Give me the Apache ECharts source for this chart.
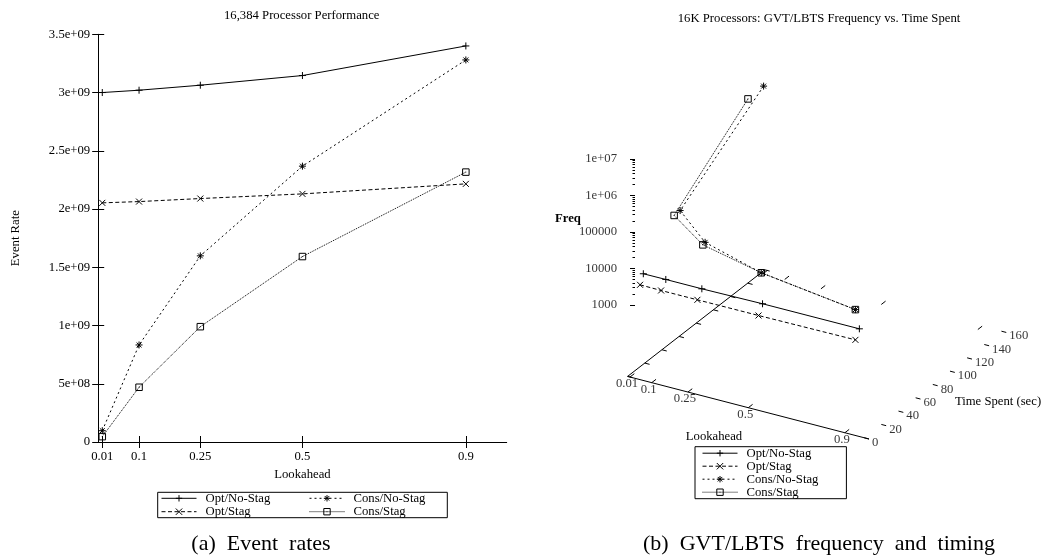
<!DOCTYPE html>
<html><head><meta charset="utf-8">
<script src="https://cdn.jsdelivr.net/npm/echarts@6/dist/echarts.min.js"></script>
<style>html,body{margin:0;padding:0;background:#fff}#c{width:1044px;height:558px}</style>
</head><body><div id="c"></div><script>
// ---------- data ----------
const seriesNames = ['Opt/No-Stag', 'Opt/Stag', 'Cons/No-Stag', 'Cons/Stag'];
const lookahead = [0.01, 0.1, 0.25, 0.5, 0.9];
const lookaheadLabels = ['0.01', '0.1', '0.25', '0.5', '0.9'];
// (a) event rates
const rateOptNoStag = [3.00e9, 3.02e9, 3.063e9, 3.146e9, 3.40e9];
const rateOptStag = [2.053e9, 2.064e9, 2.09e9, 2.13e9, 2.216e9];
const rateConsNoStag = [0.097e9, 0.833e9, 1.598e9, 2.368e9, 3.28e9];
const rateConsStag = [0.046e9, 0.47e9, 0.99e9, 1.592e9, 2.317e9];
// (b) time spent (sec) and GVT/LBTS frequency
const timeOptNoStag = [15.5, 16.4, 16.2, 16.6, 16.9];
const freqOptNoStag = [3870, 3710, 3750, 3850, 3800];
const timeOptStag = [11.7, 10.9, 11.0, 11.9, 12.3];
const freqOptStag = [2260, 2330, 2330, 2240, 2300];
const timeConsNoStag = [155.7, 33.1, 20.0, 15.1, 12.3];
const freqConsNoStag = [1.48e6, 1.42e5, 6.0e4, 2.9e4, 1.55e4];
const timeConsStag = [137.5, 26.1, 17.4, 15.1, 12.3];
const freqConsStag = [1.42e6, 1.40e5, 5.7e4, 2.9e4, 1.55e4];
// tick values
const timeTicks = [0, 20, 40, 60, 80, 100, 120, 140, 160];
const zTicks = [1e3, 1e4, 1e5, 1e6, 1e7];
const zTickLabels = ['1000', '10000', '100000', '1e+06', '1e+07'];

// ---------- styles ----------
const FONT = 'Liberation Serif';
const FS = 12.7;
const SYM = {
  plus: 'path://M0,5L10,5M5,0L5,10',
  cross: 'path://M0,0L10,10M10,0L0,10',
  star: 'path://M0,5L10,5M5,0L5,10M1.5,1.5L8.5,8.5M8.5,1.5L1.5,8.5',
  square: 'path://M0,0L10,0M10,0L10,10M10,10L0,10M0,10L0,0M4.4,5L5.6,5'
};
const STYLE = {
  'Opt/No-Stag': {symbol: SYM.plus, size: 7, dash: 'solid'},
  'Opt/Stag': {symbol: SYM.cross, size: 6, dash: [4, 2.5]},
  'Cons/No-Stag': {symbol: SYM.star, size: 7, dash: [2, 3]},
  'Cons/Stag': {symbol: SYM.square, size: 6.5, dash: [1, 1]}
};
function lineSeries(name, data, xi, yi) {
  const s = STYLE[name];
  return {
    type: 'line', name, data, xAxisIndex: xi, yAxisIndex: yi,
    symbol: s.symbol, symbolSize: s.size, showSymbol: true, clip: false,
    lineStyle: {color: '#000', width: 1, type: s.dash},
    itemStyle: {color: '#000', borderColor: '#000', borderWidth: 1},
    emphasis: {disabled: true}, silent: true, animation: false, z: 3
  };
}
const pairs = (ys) => lookahead.map((x, i) => [x, ys[i]]);

// ---------- 3D projection for panel (b) ----------
const PROJ = {ox: 87.6, oy: 376.4, ex: [241.4, 62.6], et: [0.858, -0.666], zBase: 71.5, zDecade: 36.5, zMinLog: 3};
function proj(x, t, z) {
  let px = PROJ.ox + PROJ.ex[0] * x + PROJ.et[0] * t;
  let py = PROJ.oy + PROJ.ex[1] * x + PROJ.et[1] * t;
  if (z != null) py -= PROJ.zBase + PROJ.zDecade * (Math.log10(z) - PROJ.zMinLog);
  return [px, py];
}
const add = (p, d) => [p[0] + d[0], p[1] + d[1]];
const pts3d = (times, freqs) => lookahead.map((x, i) => proj(x, times[i], freqs[i]));

// frame segments (axes & ticks)
const segs = [];
segs.push([proj(0, 0), proj(1, 0)]);
segs.push([proj(0, 0), proj(0, 160)]);
lookahead.forEach(x => {
  segs.push([proj(x, 0), proj(x, 5)]);
  segs.push([proj(x, 160), proj(x, 155)]);
});
timeTicks.forEach(t => {
  segs.push([proj(0, t), proj(0.02, t)]);
  segs.push([proj(1, t), proj(0.98, t)]);
});
for (let d = 3; d <= 7; d++) {
  const p = proj(0, 0, Math.pow(10, d));
  segs.push([add(p, [2.4, 0]), add(p, [7.4, 0])]);
  if (d < 7) for (let k = 2; k <= 9; k++) {
    const q = proj(0, 0, k * Math.pow(10, d));
    segs.push([add(q, [4.9, 0]), add(q, [7.4, 0])]);
  }
}
const xLabelData = lookahead.map((x, i) => ({name: lookaheadLabels[i], value: add(proj(x, 0), [-3, 7])}));
const tLabelData = timeTicks.map(t => ({name: String(t), value: add(proj(1, t), [3, 3.5])}));
const zLabelData = zTicks.map((z, i) => ({name: zTickLabels[i], value: add(proj(0, 0, z), [-10.6, 0])}));
function labelSeries(data, align) {
  return {
    type: 'scatter', data, xAxisIndex: 2, yAxisIndex: 2, symbolSize: 0.01, silent: true, animation: false,
    label: {show: true, position: [0, 0], formatter: '{b}', align, verticalAlign: 'middle',
      fontFamily: FONT, fontSize: FS, color: '#000'}
  };
}

const txt = {fontFamily: FONT, fontSize: FS, color: '#000', fontWeight: 'normal'};
const fmtE = v => v === 0 ? '0' : v.toExponential().replace(/e\+(\d)$/, 'e+0$1');
const legendCommon = {
  orient: 'vertical', itemWidth: 35, itemHeight: 8, itemGap: 0, selectedMode: false,
  textStyle: Object.assign({lineHeight: 13.4, padding: [0, 0, 0, 4]}, txt),
  lineStyle: {width: 1}, itemStyle: {borderWidth: 1}, padding: 0
};

const chart = echarts.init(document.getElementById('c'), null, {renderer: 'canvas'});
chart.setOption({
  animation: false,
  backgroundColor: '#fff',
  title: [
    {text: '16,384 Processor Performance', left: 301.7, top: 9, textAlign: 'center', padding: 0, textStyle: txt},
    {text: '16K Processors: GVT/LBTS Frequency vs. Time Spent', left: 819, top: 12.6, textAlign: 'center', padding: 0, textStyle: txt},
    {text: '(a)\u2002Event\u2002rates', left: 261, top: 533, textAlign: 'center', padding: 0, textStyle: Object.assign({}, txt, {fontSize: 22})},
    {text: '(b)\u2002GVT/LBTS\u2002frequency\u2002and\u2002timing', left: 819, top: 533, textAlign: 'center', padding: 0, textStyle: Object.assign({}, txt, {fontSize: 22})}
  ],
  legend: [
    Object.assign({}, legendCommon, {data: ['Opt/No-Stag', 'Opt/Stag'], left: 161, top: 491.6}),
    Object.assign({}, legendCommon, {data: ['Cons/No-Stag', 'Cons/Stag'], left: 309, top: 491.6}),
    Object.assign({}, legendCommon, {data: seriesNames, left: 695, top: 446.7, padding: [0, 28, 0, 7],
      borderColor: '#000', borderWidth: 1, textStyle: Object.assign({lineHeight: 13, padding: [0, 0, 0, 4]}, txt)})
  ],
  grid: [
    {left: 98.2, top: 34.3, width: 408.5, height: 407.7, outerBoundsMode: 'none', containLabel: false},
    {left: 540, top: 0, width: 504, height: 558, outerBoundsMode: 'none', containLabel: false}
  ],
  xAxis: [
    {gridIndex: 0, type: 'value', min: 0, max: 1, position: 'bottom',
      axisLine: {show: true, onZero: false, lineStyle: {color: '#000', width: 1}},
      axisTick: {show: true, inside: true, length: 6, customValues: lookahead, lineStyle: {color: '#000'}},
      axisLabel: {show: true, customValues: lookahead, formatter: v => String(v), margin: 8, fontFamily: FONT, fontSize: FS, color: '#000'},
      splitLine: {show: false},
      name: 'Lookahead', nameLocation: 'middle', nameGap: 26, nameTextStyle: txt},
    {gridIndex: 0, type: 'value', min: 0, max: 1, position: 'top',
      axisLine: {show: false},
      axisTick: {show: true, inside: true, length: 6, customValues: lookahead, lineStyle: {color: '#000'}},
      axisLabel: {show: false}, splitLine: {show: false}},
    {gridIndex: 1, type: 'value', min: 0, max: 504, show: false}
  ],
  yAxis: [
    {gridIndex: 0, type: 'value', min: 0, max: 3.5e9, interval: 5e8, position: 'left',
      axisLine: {show: true, onZero: false, lineStyle: {color: '#000', width: 1}},
      axisTick: {show: true, inside: true, length: 6, lineStyle: {color: '#000'}},
      axisLabel: {show: true, formatter: fmtE, margin: 8, fontFamily: FONT, fontSize: FS, color: '#000'},
      splitLine: {show: false},
      name: 'Event Rate', nameLocation: 'middle', nameRotate: 90, nameGap: 76, nameTextStyle: txt},
    {gridIndex: 0, type: 'value', min: 0, max: 3.5e9, interval: 5e8, position: 'right',
      axisLine: {show: false},
      axisTick: {show: true, inside: true, length: 6, lineStyle: {color: '#000'}},
      axisLabel: {show: false}, splitLine: {show: false}},
    {gridIndex: 1, type: 'value', min: 0, max: 558, inverse: true, show: false}
  ],
  graphic: [
    {type: 'rect', shape: {x: 157.7, y: 492.3, width: 289.6, height: 25.4}, style: {fill: 'none', stroke: '#000', lineWidth: 1}, silent: true},
    {type: 'text', x: 714, y: 437, style: {text: 'Lookahead', font: FS + 'px "' + FONT + '"', fill: '#000', align: 'center', verticalAlign: 'middle'}, silent: true},
    {type: 'text', x: 998, y: 402, style: {text: 'Time Spent (sec)', font: FS + 'px "' + FONT + '"', fill: '#000', align: 'center', verticalAlign: 'middle'}, silent: true},
    {type: 'text', x: 568, y: 219, style: {text: 'Freq', font: 'bold ' + FS + 'px "' + FONT + '"', fill: '#000', align: 'center', verticalAlign: 'middle'}, silent: true}
  ],
  series: [
    lineSeries('Opt/No-Stag', pairs(rateOptNoStag), 0, 0),
    lineSeries('Opt/Stag', pairs(rateOptStag), 0, 0),
    lineSeries('Cons/No-Stag', pairs(rateConsNoStag), 0, 0),
    lineSeries('Cons/Stag', pairs(rateConsStag), 0, 0),
    lineSeries('Opt/No-Stag', pts3d(timeOptNoStag, freqOptNoStag), 2, 2),
    lineSeries('Opt/Stag', pts3d(timeOptStag, freqOptStag), 2, 2),
    lineSeries('Cons/No-Stag', pts3d(timeConsNoStag, freqConsNoStag), 2, 2),
    lineSeries('Cons/Stag', pts3d(timeConsStag, freqConsStag), 2, 2),
    {type: 'lines', coordinateSystem: 'cartesian2d', xAxisIndex: 2, yAxisIndex: 2, silent: true, animation: false,
      data: segs.map(s => ({coords: s})), lineStyle: {color: '#000', width: 1, opacity: 1, curveness: 0}, z: 2},
    labelSeries(xLabelData, 'center'),
    labelSeries(tLabelData, 'left'),
    labelSeries(zLabelData, 'right')
  ]
});
</script></body></html>
